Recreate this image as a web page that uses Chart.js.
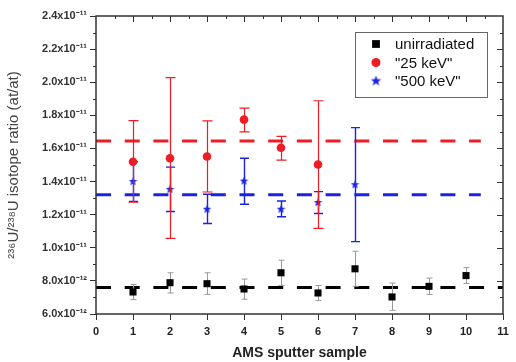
<!DOCTYPE html>
<html>
<head>
<meta charset="utf-8">
<script src="https://cdn.jsdelivr.net/npm/chart.js@4/dist/chart.umd.min.js"></script>
<style>
  body { margin: 0; background: #fff; }
  canvas { display: block; }
</style>
</head>
<body>
<canvas id="myChart" width="516" height="362"></canvas>
<script>
// values are in units of 1e-12 (at/at)
const samples = [1, 2, 3, 4, 5, 6, 7, 8, 9, 10];
const unirrValue = [7.33, 7.89, 7.83, 7.51, 8.49, 7.27, 8.73, 7.03, 7.67, 8.32];
const unirrHigh = [7.79, 8.49, 8.49, 8.11, 9.25, 7.72, 9.79, 7.87, 8.17, 8.8];
const unirrLow = [6.87, 7.27, 7.18, 6.89, 7.73, 6.82, 7.67, 6.22, 7.18, 7.84];

const kev25Samples = [1, 2, 3, 4, 5, 6];
const kev25Value = [15.2, 15.41, 15.51, 17.74, 16.04, 15.03];
const kev25High = [17.68, 20.28, 17.66, 18.44, 16.73, 18.88];
const kev25Low = [12.75, 10.57, 13.37, 17.0, 15.29, 11.17];

const kev500Samples = [1, 2, 3, 4, 5, 6, 7];
const kev500Value = [14.0, 13.53, 12.33, 14.03, 12.33, 12.73, 13.81];
const kev500High = [15.2, 14.87, 13.23, 15.41, 12.83, 13.39, 17.26];
const kev500Low = [12.8, 12.19, 11.47, 12.63, 11.87, 12.07, 10.37];

// mean levels (dashed lines) and their x range
const meanUnirr = 7.6;
const meanKev25 = 16.45;
const meanKev500 = 13.2;
const meanUnirrRange = [0, 11];
const meanIrrRange = [0, 10.4];

const yTicks = [6, 8, 10, 12, 14, 16, 18, 20, 22, 24];
const yTickLabels = ["6.0x10⁻¹²", "8.0x10⁻¹²", "1.0x10⁻¹¹", "1.2x10⁻¹¹", "1.4x10⁻¹¹",
  "1.6x10⁻¹¹", "1.8x10⁻¹¹", "2.0x10⁻¹¹", "2.2x10⁻¹¹", "2.4x10⁻¹¹"];

const RED = "#ee1c24";
const BLUE = "#1a22e6";
const FONT = "'Liberation Sans', Arial, sans-serif";

// filled five point star for the "500 keV" markers
function makeStar(size, color) {
  const c = document.createElement("canvas");
  c.width = size; c.height = size;
  const g = c.getContext("2d");
  const cx = size / 2, cy = size / 2, ro = size / 2, ri = ro * 0.42;
  g.beginPath();
  for (let i = 0; i < 10; i++) {
    const r = i % 2 ? ri : ro;
    const a = -Math.PI / 2 + i * Math.PI / 5;
    g.lineTo(cx + r * Math.cos(a), cy + r * Math.sin(a));
  }
  g.closePath();
  g.fillStyle = color;
  g.fill();
  return c;
}
const starImg = makeStar(9, BLUE);
const starLegend = makeStar(11, BLUE);

const toPoints = (xs, ys) => xs.map((x, i) => ({ x: x, y: ys[i] }));

// error bars drawn under each dataset's markers
const errorBars = {
  id: "errorBars",
  beforeDatasetDraw(chart, args) {
    const ds = chart.data.datasets[args.index];
    if (!ds.errLow) return;
    const { ctx, scales: { x, y } } = chart;
    ctx.save();
    ctx.strokeStyle = ds.errColor;
    ctx.lineWidth = ds.errWidth;
    ds.data.forEach((p, i) => {
      const px = Math.round(x.getPixelForValue(p.x)) + 0.5;
      const top = y.getPixelForValue(ds.errHigh[i]);
      const bot = y.getPixelForValue(ds.errLow[i]);
      const c = ds.capHalf;
      ctx.beginPath();
      ctx.moveTo(px, top); ctx.lineTo(px, bot);
      ctx.moveTo(px - c, top); ctx.lineTo(px + c, top);
      ctx.moveTo(px - c, bot); ctx.lineTo(px + c, bot);
      ctx.stroke();
    });
    ctx.restore();
  }
};

// box frame with minor ticks and mirrored inward ticks
const frame = {
  id: "frame",
  afterDatasetsDraw(chart) {
    const { ctx, chartArea: a, scales: { x, y } } = chart;
    ctx.save();
    ctx.strokeStyle = "#333";
    ctx.lineWidth = 1;
    ctx.beginPath();
    for (let v = 7; v < 24; v += 2) {
      const py = Math.round(y.getPixelForValue(v)) + 0.5;
      ctx.moveTo(a.left - 3, py); ctx.lineTo(a.left, py);
      ctx.moveTo(a.right, py); ctx.lineTo(a.right - 3, py);
    }
    for (let v = 8; v < 24; v += 2) {
      const py = Math.round(y.getPixelForValue(v)) + 0.5;
      ctx.moveTo(a.right, py); ctx.lineTo(a.right - 6, py);
    }
    for (let v = 1; v < 11; v++) {
      const px = Math.round(x.getPixelForValue(v)) + 0.5;
      ctx.moveTo(px, a.top); ctx.lineTo(px, a.top + 6);
    }
    for (let v = 0.5; v < 11; v += 1) {
      const px = Math.round(x.getPixelForValue(v)) + 0.5;
      ctx.moveTo(px, a.top); ctx.lineTo(px, a.top + 3);
    }
    ctx.stroke();
    ctx.lineWidth = 1.5;
    ctx.strokeRect(a.left, a.top, a.right - a.left, a.bottom - a.top);
    ctx.restore();
  }
};

// legend box inside the plot, top right
const boxLegend = {
  id: "boxLegend",
  afterDraw(chart) {
    const ctx = chart.ctx;
    const left = 355, top = 32, w = 132, h = 65;
    ctx.save();
    ctx.strokeStyle = "#666";
    ctx.lineWidth = 1;
    ctx.strokeRect(left + 0.5, top + 0.5, w, h);
    ctx.font = "15px " + FONT;
    ctx.textBaseline = "middle";
    chart.data.datasets.filter(d => d.inLegend).forEach((d, i) => {
      const cy = 44 + i * 18.5;
      ctx.fillStyle = d.backgroundColor;
      Chart.helpers.drawPoint(ctx, { pointStyle: d.legendStyle || d.pointStyle, radius: d.legendRadius, rotation: 0, borderWidth: 0 }, 376, cy);
      ctx.fillStyle = "#111";
      ctx.fillText(d.label, 395, cy + 1);
    });
    ctx.restore();
  }
};

const ctx = document.getElementById("myChart").getContext("2d");
const myChart = new Chart(ctx, {
  type: "scatter",
  data: {
    datasets: [
      {
        label: "unirradiated",
        inLegend: true,
        data: toPoints(samples, unirrValue),
        errHigh: unirrHigh, errLow: unirrLow,
        errColor: "#9a9a9a", errWidth: 1, capHalf: 3,
        pointStyle: "rect", pointRadius: 5, legendRadius: 5.5,
        backgroundColor: "#000", borderColor: "#000", borderWidth: 0,
      },
      {
        label: "\"25 keV\"",
        inLegend: true,
        data: toPoints(kev25Samples, kev25Value),
        errHigh: kev25High, errLow: kev25Low,
        errColor: RED, errWidth: 1.2, capHalf: 5,
        pointStyle: "circle", pointRadius: 4.3, legendRadius: 4.5,
        backgroundColor: RED, borderColor: RED, borderWidth: 0,
      },
      {
        label: "\"500 keV\"",
        inLegend: true,
        data: toPoints(kev500Samples, kev500Value),
        errHigh: kev500High, errLow: kev500Low,
        errColor: BLUE, errWidth: 1.4, capHalf: 4.5,
        pointStyle: starImg, legendStyle: starLegend, pointRadius: 5, legendRadius: 5,
        backgroundColor: BLUE, borderColor: BLUE, borderWidth: 0,
      },
      {
        label: "mean unirradiated",
        data: toPoints(meanUnirrRange, [meanUnirr, meanUnirr]),
        showLine: true, pointRadius: 0, borderColor: "#000", borderWidth: 3,
        borderDash: [15, 13.7], borderCapStyle: "butt",
      },
      {
        label: "mean 25 keV",
        data: toPoints(meanIrrRange, [meanKev25, meanKev25]),
        showLine: true, pointRadius: 0, borderColor: RED, borderWidth: 3,
        borderDash: [15, 13.7], borderCapStyle: "butt",
      },
      {
        label: "mean 500 keV",
        data: toPoints(meanIrrRange, [meanKev500, meanKev500]),
        showLine: true, pointRadius: 0, borderColor: BLUE, borderWidth: 3,
        borderDash: [15, 13.7], borderCapStyle: "butt",
      },
    ],
  },
  options: {
    responsive: false,
    animation: false,
    clip: false,
    layout: { padding: { top: 16, right: 13, left: 0, bottom: 0 } },
    plugins: { legend: { display: false }, tooltip: { enabled: false } },
    scales: {
      x: {
        type: "linear", min: 0, max: 11,
        afterFit: (s) => { s.height = 48; },
        border: { display: false },
        grid: { drawOnChartArea: false, drawTicks: true, tickLength: 6, tickColor: "#333" },
        ticks: { stepSize: 1, padding: 5, color: "#222", font: { family: FONT, size: 11, weight: "bold" },
          callback: (v) => String(v) },
        title: { display: true, text: "AMS sputter sample", color: "#222",
          font: { family: FONT, size: 14, weight: "bold" }, padding: { top: 0, bottom: 0 } },
      },
      y: {
        type: "linear", min: 6, max: 24,
        afterFit: (s) => { s.width = 96; },
        border: { display: false },
        grid: { drawOnChartArea: false, drawTicks: true, tickLength: 6, tickColor: "#333" },
        ticks: { stepSize: 2, padding: 3, color: "#333", font: { family: FONT, size: 11, weight: "bold" },
          callback: (v) => { const i = yTicks.indexOf(v); return i >= 0 ? yTickLabels[i] : ""; } },
        title: { display: true, text: "²³⁶U/²³⁸U isotope ratio (at/at)", color: "#444",
          font: { family: FONT, size: 15 }, padding: { top: 5, bottom: 0 } },
      },
    },
  },
  plugins: [errorBars, frame, boxLegend],
});
</script>
</body>
</html>
